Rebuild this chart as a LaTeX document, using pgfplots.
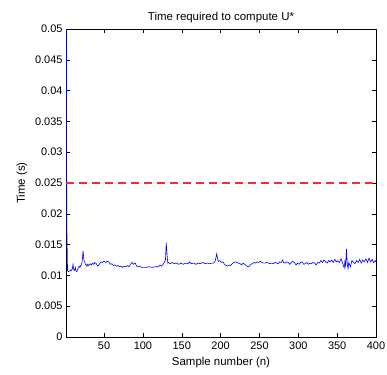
\documentclass[border=0pt]{standalone}
\usepackage{pgfplots}
\pgfplotsset{compat=1.18}
\usepackage{fontspec}
\setmainfont{Liberation Sans}
\usetikzlibrary{calc}
\definecolor{mred}{RGB}{255,40,40}
\definecolor{mblue}{rgb}{0,0,1}
\begin{document}
\begin{tikzpicture}
\begin{axis}[
  scale only axis,
  width=310bp, height=308bp,
  xmin=1, xmax=400, ymin=0, ymax=0.05,
  xtick={50,100,150,200,250,300,350,400},
  xticklabels={50,100,150,200,250,300,350,400},
  ytick={0,0.005,0.01,0.015,0.02,0.025,0.03,0.035,0.04,0.045,0.05},
  yticklabels={0,0.005,0.01,0.015,0.02,0.025,0.03,0.035,0.04,0.045,0.05},
  scaled y ticks=false,
  tick align=inside,
  major tick length=4bp,
  tick style={black, line width=0.5bp},
  axis line style={black, line width=0.6bp},
  ticklabel style={font=\fontsize{11}{12}\selectfont},
  xticklabel style={yshift=-1bp},
  label style={font=\fontsize{11.5}{13}\selectfont},
  title style={font=\fontsize{11.5}{13}\selectfont, yshift=-3bp},
  title={Time required to compute U*},
  xlabel={Sample number (n)},
  ylabel={Time (s)},
  xlabel style={yshift=-1bp},
  ylabel style={yshift=1bp},
  clip=true,
]
\addplot[color=mblue, line width=0.6bp, mark=none] coordinates {
(1,0.09) (2,0.0185) (3,0.0108) (4,0.0106) (5,0.0107) (6,0.0107) (7,0.0109) (8,0.0108) (9,0.011) (10,0.0118)
(11,0.0109) (12,0.0108) (13,0.0113) (14,0.0107) (15,0.0106) (16,0.011) (17,0.0113) (18,0.0115) (19,0.0113) (20,0.0116)
(21,0.0117) (22,0.0125) (23,0.0140) (24,0.0125) (25,0.0122) (26,0.0118) (27,0.0117) (28,0.0115) (29,0.0118) (30,0.0116)
(32,0.0119) (34,0.0117) (35,0.0120) (37,0.0118) (38,0.0121) (40,0.0119) (42,0.0115) (44,0.0118) (46,0.0122) (48,0.0121)
(50,0.0123) (52,0.0121) (54,0.0123) (56,0.0122) (58,0.0118) (60,0.0119) (62,0.0116) (64,0.0117) (66,0.0115) (68,0.0116)
(70,0.0114) (72,0.0115) (74,0.0113) (76,0.0115) (78,0.0114) (80,0.0116) (82,0.0114) (84,0.0118) (86,0.0121) (88,0.0118)
(90,0.0120) (92,0.0115) (94,0.0114) (96,0.0115) (98,0.0113) (100,0.0113) (104,0.0113) (108,0.0114) (112,0.0113) (116,0.0114)
(120,0.0114) (122,0.0117) (124,0.0115) (126,0.0118) (128,0.0122) (129,0.0125) (130,0.0153) (131,0.0135) (132,0.0120) (133,0.0121)
(135,0.0119) (138,0.0121) (140,0.0119) (143,0.0120) (146,0.0118) (149,0.0120) (152,0.0118) (155,0.0120) (158,0.0119) (160,0.0122)
(162,0.0119) (165,0.0120) (168,0.0118) (171,0.0120) (174,0.0119) (177,0.0121) (180,0.0119) (183,0.0120) (186,0.0119) (189,0.0120)
(191,0.0120) (193,0.0123) (195,0.0135) (196,0.0128) (197,0.0123) (199,0.0124) (201,0.0121) (203,0.0122) (205,0.0118) (207,0.0116)
(209,0.0115) (211,0.0117) (213,0.0116) (215,0.0119) (217,0.0121) (219,0.0122) (221,0.0121) (223,0.0120) (225,0.0119) (227,0.0117)
(229,0.0120) (231,0.0118) (233,0.0116) (235,0.0114) (237,0.0115) (239,0.0118) (241,0.0119) (243,0.0121) (245,0.0120) (247,0.0122)
(249,0.0121) (251,0.0123) (253,0.0121) (255,0.0120) (257,0.0120) (260,0.0121) (263,0.0119) (266,0.0120) (268,0.0119) (270,0.0121)
(272,0.0120) (274,0.0119) (276,0.0122) (278,0.0121) (280,0.0125) (281,0.0121) (283,0.0120) (285,0.0122) (287,0.0121) (289,0.0118)
(291,0.0121) (293,0.0123) (295,0.0121) (297,0.0117) (299,0.0120) (301,0.0118) (303,0.0121) (305,0.0122) (307,0.0118) (309,0.0119)
(311,0.0121) (313,0.0118) (315,0.0120) (317,0.0119) (319,0.0121) (321,0.0120) (323,0.0117) (325,0.0121) (327,0.0120) (329,0.0124)
(331,0.0121) (333,0.0125) (335,0.0122) (337,0.0120) (339,0.0124) (341,0.0122) (343,0.0125) (345,0.0121) (347,0.0126) (349,0.0122)
(351,0.0124) (353,0.0121) (355,0.0127) (357,0.0120) (359,0.0112) (360,0.0123) (361,0.0115) (362,0.0143) (363,0.0119) (364,0.0111)
(365,0.0121) (367,0.0114) (369,0.0124) (371,0.0121) (373,0.0119) (375,0.0124) (377,0.0121) (379,0.0126) (381,0.0120) (383,0.0125)
(385,0.0122) (387,0.0127) (389,0.0121) (391,0.0128) (393,0.0122) (395,0.0126) (397,0.0121) (399,0.0124) (400,0.0122)
};
\addplot[color=mred, dash pattern=on 8bp off 5bp, line width=1.4bp, mark=none] coordinates {(1,0.025) (400,0.025)};
\end{axis}
\pgfresetboundingbox
\path[use as bounding box] ($(current axis.south west)+(-66bp,-38bp)$) rectangle ($(current axis.north east)+(11bp,29bp)$);
\end{tikzpicture}
\end{document}
